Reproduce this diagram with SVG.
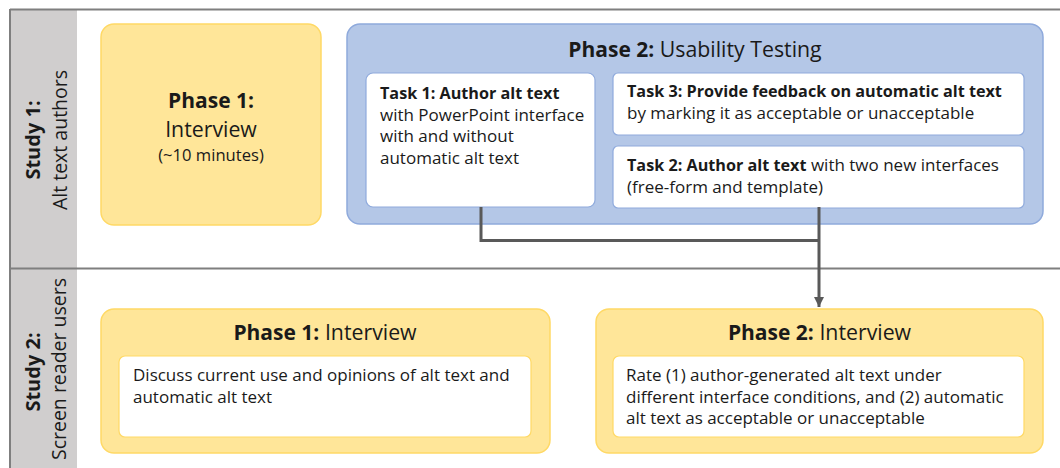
<svg xmlns="http://www.w3.org/2000/svg" width="1060" height="468" viewBox="0 0 1060 468">
  <defs>
    <marker id="arrow" viewBox="0 0 10 10" refX="10" refY="5" markerWidth="3.4" markerHeight="3.4" orient="auto" markerUnits="strokeWidth">
      <path d="M0,0 L10,5 L0,10 z" fill="#595959"/>
    </marker>
    <style>
      text { font-family: "Open Sans", "Noto Sans", "Liberation Sans", sans-serif; fill: #1a1a1a; }
      .b { font-weight: 700; }
      .lane { fill: #d0cece; }
      .rule { stroke: #7f7f7f; stroke-width: 2; fill: none; }
      .yellow { fill: #ffe699; stroke: #ffd966; stroke-width: 1.5; }
      .blue { fill: #b4c7e7; stroke: #8faadc; stroke-width: 1.5; }
      .card-b { fill: #ffffff; stroke: #8faadc; stroke-width: 1.2; }
      .card-y { fill: #ffffff; stroke: #ffd966; stroke-width: 1.2; }
      .title { font-size: 21.3px; text-anchor: middle; }
      .title .b { font-size: 21px; }
      .body { font-size: 17px; }
      .body .b { font-size: 16.2px; }
      .lane-label { font-size: 19.5px; text-anchor: middle; }
      .lane-label.b { font-size: 20px; }
      .note { font-size: 16.6px; text-anchor: middle; }
      .link { stroke: #595959; stroke-width: 3; fill: none; }
    </style>
  </defs>

  <!-- swimlane frame -->
  <g id="frame">
    <rect class="lane" x="10" y="9" width="67" height="459"/>
    <line class="rule" x1="10" y1="9.5" x2="1060" y2="9.5"/>
    <line class="rule" x1="10" y1="268.5" x2="1060" y2="268.5"/>
    <line class="rule" x1="10" y1="9" x2="10" y2="468"/>
  </g>

  <g id="lane-study1">
    <text class="lane-label b" transform="translate(40,140) rotate(-90)">Study 1:</text>
    <text class="lane-label" transform="translate(67,140) rotate(-90)">Alt text authors</text>
  </g>
  <g id="lane-study2">
    <text class="lane-label b" transform="translate(40,372) rotate(-90)">Study 2:</text>
    <text class="lane-label" transform="translate(66,369) rotate(-90)">Screen reader users</text>
  </g>

  <!-- Study 1, Phase 1 -->
  <g id="s1-phase1">
    <rect class="yellow" x="101" y="24" width="220" height="201" rx="13"/>
    <text class="title" x="211" y="108"><tspan class="b">Phase 1:</tspan></text>
    <text class="title" x="211" y="137">Interview</text>
    <text class="note" x="211" y="161">(~10 minutes)</text>
  </g>

  <!-- Study 1, Phase 2 -->
  <g id="s1-phase2">
    <rect class="blue" x="347" y="24" width="696" height="200" rx="13"/>
    <text class="title" x="695" y="57"><tspan class="b">Phase 2:</tspan> Usability Testing</text>
  </g>

  <g id="task1">
    <rect class="card-b" x="366" y="73" width="229" height="134" rx="7"/>
    <text class="body" x="380" y="99"><tspan class="b">Task 1: Author alt text</tspan></text>
    <text class="body" x="380" y="120.5">with PowerPoint interface</text>
    <text class="body" x="380" y="142">with and without</text>
    <text class="body" x="380" y="163.5">automatic alt text</text>
  </g>

  <g id="task3">
    <rect class="card-b" x="613" y="73" width="411" height="62" rx="5"/>
    <text class="body" x="627" y="97"><tspan class="b">Task 3: Provide feedback on automatic alt text</tspan></text>
    <text class="body" x="627" y="119">by marking it as acceptable or unacceptable</text>
  </g>

  <g id="task2">
    <rect class="card-b" x="613" y="146" width="411" height="62" rx="5"/>
    <text class="body" x="627" y="171"><tspan class="b">Task 2: Author alt text</tspan> with two new interfaces</text>
    <text class="body" x="627" y="193">(free-form and template)</text>
  </g>

  <!-- Study 2, Phase 1 -->
  <g id="s2-phase1">
    <rect class="yellow" x="101" y="309" width="449" height="144" rx="13"/>
    <text class="title" x="325" y="340"><tspan class="b">Phase 1:</tspan> Interview</text>
    <rect class="card-y" x="119" y="356" width="412" height="81" rx="6"/>
    <text class="body" x="133" y="381">Discuss current use and opinions of alt text and</text>
    <text class="body" x="133" y="402.5">automatic alt text</text>
  </g>

  <!-- Study 2, Phase 2 -->
  <g id="s2-phase2">
    <rect class="yellow" x="596" y="309" width="447" height="144" rx="13"/>
    <text class="title" x="819.5" y="340"><tspan class="b">Phase 2:</tspan> Interview</text>
    <rect class="card-y" x="613" y="356" width="411" height="81" rx="6"/>
    <text class="body" x="626" y="381">Rate (1) author-generated alt text under</text>
    <text class="body" x="626" y="402.5">different interface conditions, and (2) automatic</text>
    <text class="body" x="626" y="424">alt text as acceptable or unacceptable</text>
  </g>

  <!-- connectors -->
  <g id="connectors">
    <polyline class="link" points="481,207 481,240.5 819,240.5"/>
    <line class="link" x1="819" y1="207" x2="819" y2="307" marker-end="url(#arrow)"/>
  </g>
</svg>
